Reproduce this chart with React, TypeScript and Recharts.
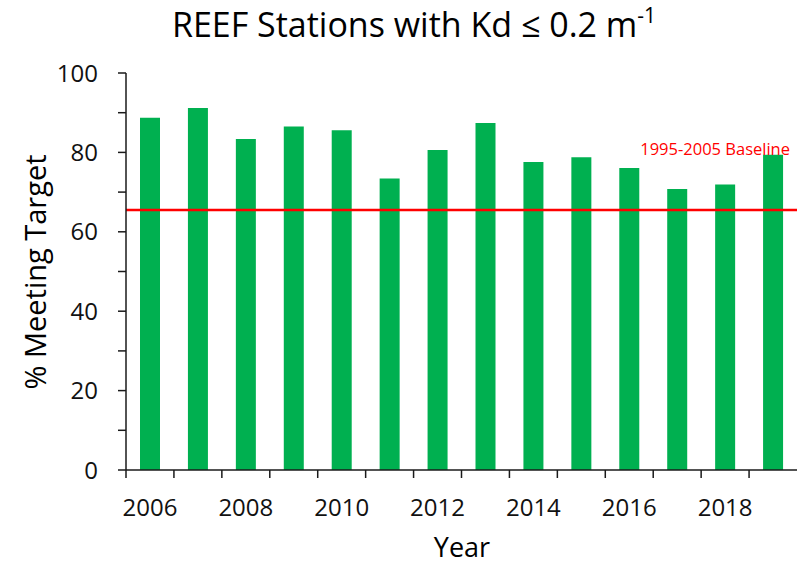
import React from 'react';
import { BarChart, Bar, XAxis, YAxis, ReferenceLine } from 'recharts';

const years = ['2006', '2007', '2008', '2009', '2010', '2011', '2012', '2013', '2014', '2015', '2016', '2017', '2018', '2019'];
const pctMeeting = [88.7, 91.2, 83.4, 86.5, 85.6, 73.4, 80.6, 87.4, 77.6, 78.8, 76.1, 70.8, 71.9, 79.4];
const yTicks = [0, 10, 20, 30, 40, 50, 60, 70, 80, 90, 100];
const baselinePct = 65.5; // 1995-2005 baseline

const data = years.map((year, i) => ({ year, pct: pctMeeting[i] }));

const FONT = '"Open Sans", sans-serif';
const AXIS = '#1a1a1a';

const YTick = (props: any) => {
  const { x, y, payload } = props;
  if (payload.value % 20 !== 0) return <g />;
  return (
    <text x={x} y={y} dy="0.36em" textAnchor="end" fontFamily={FONT} fontSize={24} fill="#111">
      {payload.value}
    </text>
  );
};

// labels on every other year, tick marks on the band edges (like Excel)
const XTick = (props: any) => {
  const { x, y, payload, width } = props;
  const half = width / years.length / 2;
  const axisY = y - 8;
  const showLabel = Number(payload.value) % 2 === 0;
  return (
    <g>
      <line x1={x - half} x2={x - half} y1={axisY} y2={axisY + 8} stroke={AXIS} strokeWidth={1.5} />
      {showLabel && (
        <text x={x} y={axisY + 46} textAnchor="middle" fontFamily={FONT} fontSize={24} fill="#111">
          {payload.value}
        </text>
      )}
    </g>
  );
};

export default function App() {
  return (
    <div style={{ position: 'absolute', left: 0, top: 0, width: 805, height: 565, background: '#fff' }}>
      <BarChart width={805} height={565} data={data} margin={{ top: 73, right: 8, bottom: 35, left: 0 }}>
        <XAxis
          dataKey="year"
          interval={0}
          height={60}
          tickSize={8}
          tickMargin={0}
          tickLine={false}
          axisLine={{ stroke: AXIS, strokeWidth: 1.5 }}
          tick={<XTick />}
        />
        <YAxis
          width={126}
          domain={[0, 100]}
          ticks={yTicks}
          interval={0}
          tickSize={8}
          tickMargin={20}
          axisLine={{ stroke: AXIS, strokeWidth: 1.5 }}
          tickLine={{ stroke: AXIS, strokeWidth: 1.5 }}
          tick={<YTick />}
        />
        <Bar dataKey="pct" fill="#00B050" barSize={20} isAnimationActive={false} />
        <ReferenceLine y={baselinePct} stroke="#FF0000" strokeWidth={2.5} />
      </BarChart>
      <svg width={805} height={565} style={{ position: 'absolute', left: 0, top: 0, pointerEvents: 'none' }}>
        <text x={414} y={37} textAnchor="middle" fontFamily={FONT} fontSize={34} fill="#000">
          REEF Stations with Kd ≤ 0.2 m
          <tspan fontSize={21} dy={-14}>-1</tspan>
        </text>
        <text x={790} y={155} textAnchor="end" fontFamily={FONT} fontSize={16.5} fill="#FF0000">
          1995-2005 Baseline
        </text>
        <text
          x={0}
          y={0}
          transform="translate(46 272) rotate(-90)"
          textAnchor="middle"
          fontFamily={FONT}
          fontSize={29}
          fill="#000"
        >
          % Meeting Target
        </text>
        <text x={462} y={557} textAnchor="middle" fontFamily={FONT} fontSize={27} fill="#000">
          Year
        </text>
      </svg>
    </div>
  );
}
